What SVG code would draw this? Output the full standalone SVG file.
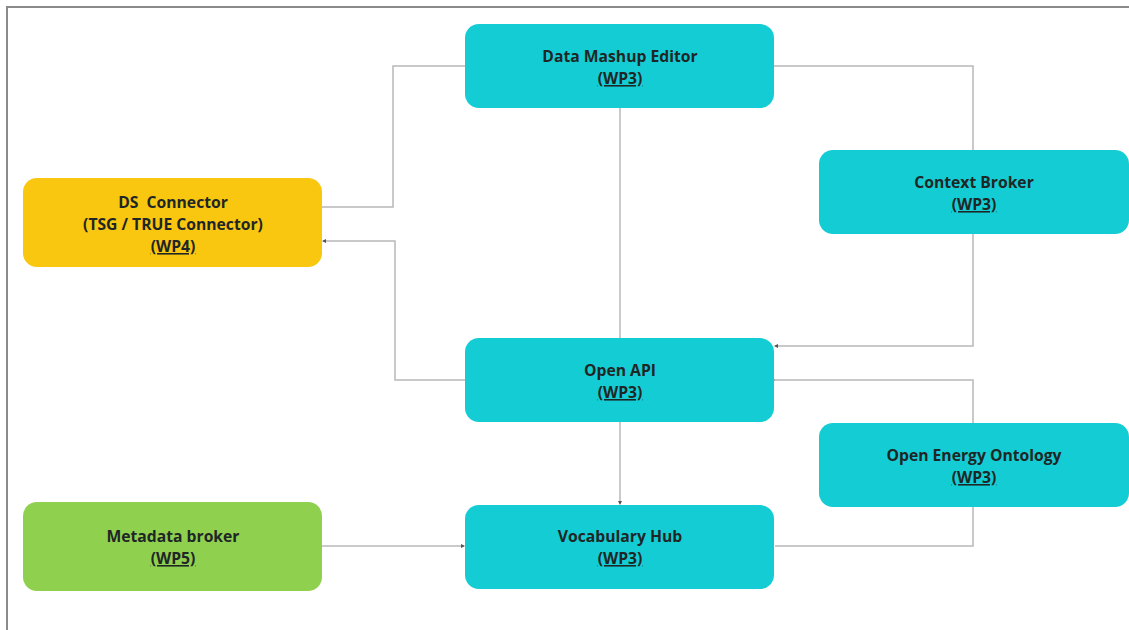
<svg xmlns="http://www.w3.org/2000/svg" width="1129" height="630" viewBox="0 0 1129 630">
  <defs>
    <style>
      .frame { fill: none; stroke: #8a8a8a; stroke-width: 2; }
      .node-cyan { fill: #14CDD4; }
      .node-yellow { fill: #F9C710; }
      .node-green { fill: #8FD14F; }
      .label { font-family: "Open Sans", "Liberation Sans", sans-serif; font-weight: 700; font-size: 15.7px; fill: #1f2626; text-anchor: middle; }
      .wp { text-decoration: underline; }
      .link { fill: none; stroke: #b8b8b8; stroke-width: 1.5; }
    </style>
    <marker id="tip" markerWidth="4" markerHeight="4" refX="3" refY="2" orient="auto" markerUnits="userSpaceOnUse">
      <path d="M0,0 L4,2 L0,4 Z" fill="#555"/>
    </marker>
  </defs>

  <rect width="1129" height="630" fill="#ffffff"/>
  <path class="frame" d="M7,640 L7,7 L1140,7"/>

  <!-- connectors -->
  <g id="connectors">
    <path class="link" d="M322,207 H393 V66 H465"/>
    <path class="link" d="M465,380 H395 V241 H323" marker-end="url(#tip)"/>
    <path class="link" d="M620,108 V338"/>
    <path class="link" d="M774,66 H973 V150"/>
    <path class="link" d="M973,234 V346 H775" marker-end="url(#tip)"/>
    <path class="link" d="M774,380 H973 V423" marker-start="url(#tip)"/>
    <path class="link" d="M620,422 V504" marker-end="url(#tip)"/>
    <path class="link" d="M322,546 H464" marker-end="url(#tip)"/>
    <path class="link" d="M973,507 V546 H775"/>
  </g>

  <g id="data-mashup-editor">
    <rect class="node-cyan" x="465" y="24" width="309" height="84" rx="14"/>
    <text class="label" x="620" y="62">Data Mashup Editor</text>
    <text class="label wp" x="620" y="84">(WP3)</text>
  </g>

  <g id="context-broker">
    <rect class="node-cyan" x="819" y="150" width="310" height="84" rx="14"/>
    <text class="label" x="974" y="188">Context Broker</text>
    <text class="label wp" x="974" y="210">(WP3)</text>
  </g>

  <g id="ds-connector">
    <rect class="node-yellow" x="23" y="178" width="299" height="89" rx="14"/>
    <text class="label" x="173" y="208" xml:space="preserve">DS  Connector</text>
    <text class="label" x="173" y="230">(TSG / TRUE Connector)</text>
    <text class="label wp" x="173" y="252">(WP4)</text>
  </g>

  <g id="open-api">
    <rect class="node-cyan" x="465" y="338" width="309" height="84" rx="14"/>
    <text class="label" x="620" y="376">Open API</text>
    <text class="label wp" x="620" y="398">(WP3)</text>
  </g>

  <g id="open-energy-ontology">
    <rect class="node-cyan" x="819" y="423" width="310" height="84" rx="14"/>
    <text class="label" x="974" y="461">Open Energy Ontology</text>
    <text class="label wp" x="974" y="483">(WP3)</text>
  </g>

  <g id="metadata-broker">
    <rect class="node-green" x="23" y="502" width="299" height="89" rx="14"/>
    <text class="label" x="173" y="542">Metadata broker</text>
    <text class="label wp" x="173" y="564">(WP5)</text>
  </g>

  <g id="vocabulary-hub">
    <rect class="node-cyan" x="465" y="505" width="309" height="84" rx="14"/>
    <text class="label" x="620" y="542">Vocabulary Hub</text>
    <text class="label wp" x="620" y="564">(WP3)</text>
  </g>
</svg>
